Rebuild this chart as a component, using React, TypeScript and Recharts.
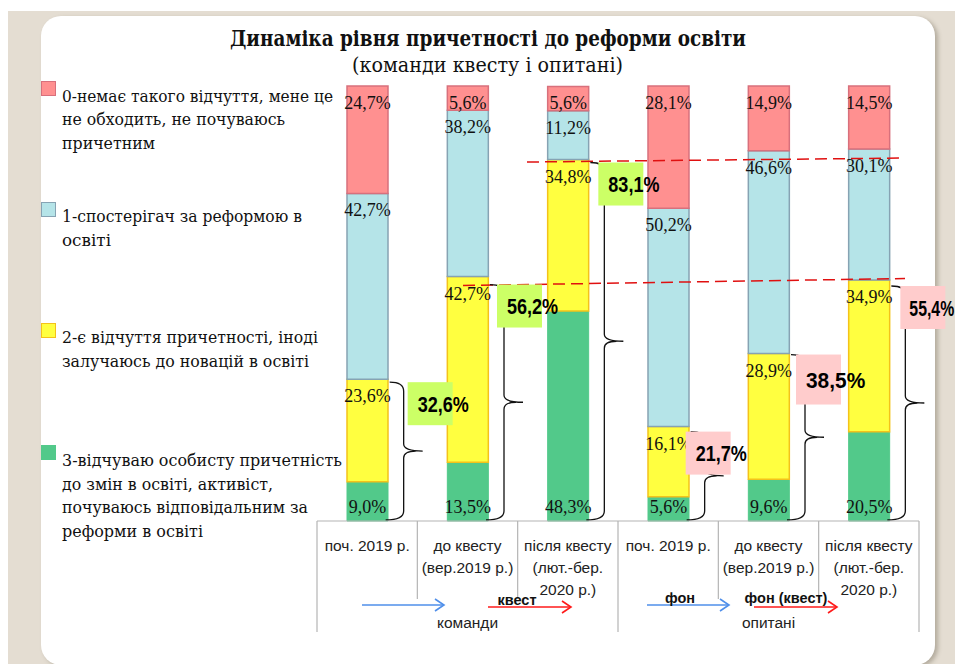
import React from 'react';
import { BarChart, Bar, XAxis, YAxis, LabelList } from 'recharts';

// ---------- data ----------
const categoryLines: string[][] = [
  ['поч. 2019 р.'],
  ['до квесту', '(вер.2019 р.)'],
  ['після квесту', '(лют.-бер.', '2020 р.)'],
  ['поч. 2019 р.'],
  ['до квесту', '(вер.2019 р.)'],
  ['після квесту', '(лют.-бер.', '2020 р.)'],
];
const groupLabels = ['команди', 'опитані'];
const level0 = [24.7, 5.6, 5.6, 28.1, 14.9, 14.5];
const level1 = [42.7, 38.2, 11.2, 50.2, 46.6, 30.1];
const level2 = [23.6, 42.7, 34.8, 16.1, 28.9, 34.9];
const level3 = [9.0, 13.5, 48.3, 5.6, 9.6, 20.5];
const legendLines: string[][] = [
  ['0-немає такого відчуття, мене це', 'не обходить, не почуваюсь', 'причетним'],
  ['1-спостерігач за реформою в', 'освіті'],
  ['2-є відчуття причетності, іноді', 'залучаюсь до новацій в освіті'],
  ['3-відчуваю особисту причетність', 'до змін в освіті, активіст,', 'почуваюсь відповідальним за', 'реформи в освіті'],
];
const titleText = 'Динаміка рівня причетності до реформи освіти';
const subtitleText = '(команди квесту і опитані)';
const arrowLabels = ['', 'квест', 'фон', 'фон (квест)'];

// ---------- layout / styles ----------
const legendWidths: number[][] = [
  [271, 223, 93],
  [240, 49],
  [256, 247],
  [280, 211, 246, 141],
];
const fills = ['#ff9090', '#b5e4e8', '#ffff40', '#52c98a'];
const strokes = ['#d8707c', '#86a3b3', '#f4c21a', '#52c98a'];
const boxFills = ['#ccff66', '#ccff66', '#ccff66', '#ffcccc', '#ffcccc', '#ffcccc'];

const W = 955;
const H = 664;
const M = { top: 86, right: 36, bottom: 143, left: 317 };
const plotW = W - M.left - M.right;
const plotH = H - M.top - M.bottom;
const N = categoryLines.length;
const BAR = 41;

const data = categoryLines.map((l, i) => ({
  name: l.join(' '),
  l0: level0[i],
  l1: level1[i],
  l2: level2[i],
  l3: level3[i],
}));

const fmt = (v: number) => v.toFixed(1).replace('.', ',') + '%';
const xc = (i: number) => M.left + ((i + 0.5) * plotW) / N;
const yv = (v: number) => M.top + plotH * (1 - v / 100);

const serif = "'Liberation Serif', 'Times New Roman', serif";
const cyrSerif = "'DejaVu Serif', serif";
const sans = "'Liberation Sans', Arial, sans-serif";

const topLabel = (props: any) => {
  const { x, y, width, value } = props;
  return (
    <text x={x + width / 2} y={y + 23} textAnchor="middle" fontFamily={serif} fontSize={18} fill="#111">
      {fmt(value)}
    </text>
  );
};
const bottomLabel = (props: any) => {
  const { x, y, width, height, value } = props;
  return (
    <text x={x + width / 2} y={y + height - 8} textAnchor="middle" fontFamily={serif} fontSize={18} fill="#111">
      {fmt(value)}
    </text>
  );
};

const Narrow = ({ x, y, children, size = 16, anchor = 'middle', weight = 400, sx = 0.82, fill = '#222' }: any) => (
  <g transform={`translate(${x},${y}) scale(${sx},1)`}>
    <text x={0} y={0} textAnchor={anchor} fontFamily={sans} fontSize={size} fontWeight={weight} fill={fill}>
      {children}
    </text>
  </g>
);

const bracePath = (x0: number, yTop: number, yBot: number) => {
  const xv = x0 + 14;
  const xt = x0 + 33;
  const ym = (yTop + yBot) / 2;
  return `M ${x0} ${yTop} Q ${xv} ${yTop} ${xv} ${yTop + 9} L ${xv} ${ym - 7} Q ${xv} ${ym} ${xt} ${ym} M ${xv + 12} ${ym} Q ${xv} ${ym} ${xv} ${ym + 7} L ${xv} ${yBot - 9} Q ${xv} ${yBot} ${x0 - 4} ${yBot}`;
};

const Arrow = ({ x1, x2, y, color }: any) => (
  <g stroke={color} strokeWidth={1.6} fill="none">
    <line x1={x1} y1={y} x2={x2} y2={y} />
    <polyline points={`${x2 - 9},${y - 6} ${x2},${y} ${x2 - 9},${y + 6}`} />
  </g>
);

export default function App() {
  const sums = level2.map((v, i) => Math.round((v + level3[i]) * 10) / 10);
  const boxDx = [20, 9, 10, -3, 7, 11];
  const boxDy = [3, 8, 3, 5, 1, 6];
  const boxH = [43, 43, 43, 43, 50, 43];
  const boxSx = [0.82, 0.82, 0.82, 0.82, 0.95, 0.72];
  const tableTop = M.top + plotH;
  const arrows = [
    { x1: 362, x2: 444, color: '#4f8fea', lx: 0 },
    { x1: 488, x2: 571, color: '#ff1a1a', lx: 517 },
    { x1: 647, x2: 729, color: '#4f8fea', lx: 680 },
    { x1: 754, x2: 837, color: '#ff1a1a', lx: 786 },
  ];
  return (
    <div style={{ position: 'absolute', left: 0, top: 0, width: W, height: H, background: '#fff', overflow: 'hidden' }}>
      <div style={{ position: 'absolute', left: 8, top: 11, width: W - 8, height: H - 11, background: '#e4ddd2' }} />
      <div
        style={{
          position: 'absolute',
          left: 41,
          top: 16,
          width: 894,
          height: 649,
          background: '#fff',
          borderRadius: 20,
          boxShadow: '3px 2px 4px rgba(90,80,60,0.35)',
        }}
      />
      <div style={{ position: 'absolute', left: 0, top: 0 }}>
        <BarChart width={W} height={H} data={data} margin={M} barSize={BAR}>
          <XAxis dataKey="name" hide />
          <YAxis type="number" domain={[0, 100]} hide />
          <Bar dataKey="l3" stackId="a" fill={fills[3]} stroke={strokes[3]} strokeWidth={1} isAnimationActive={false}>
            <LabelList dataKey="l3" content={bottomLabel} />
          </Bar>
          <Bar dataKey="l2" stackId="a" fill={fills[2]} stroke={strokes[2]} strokeWidth={1.5} isAnimationActive={false}>
            <LabelList dataKey="l2" content={topLabel} />
          </Bar>
          <Bar dataKey="l1" stackId="a" fill={fills[1]} stroke={strokes[1]} strokeWidth={1.5} isAnimationActive={false}>
            <LabelList dataKey="l1" content={topLabel} />
          </Bar>
          <Bar dataKey="l0" stackId="a" fill={fills[0]} stroke={strokes[0]} strokeWidth={1.5} isAnimationActive={false}>
            <LabelList dataKey="l0" content={topLabel} />
          </Bar>
        </BarChart>
      </div>
      <svg width={W} height={H} style={{ position: 'absolute', left: 0, top: 0, pointerEvents: 'none' }}>
        {/* title */}
        <text x={230} y={46} fontFamily={cyrSerif} fontWeight={700} fontSize={22} fill="#111" textLength={516} lengthAdjust="spacingAndGlyphs">
          {titleText}
        </text>
        <text x={352} y={72} fontFamily={cyrSerif} fontSize={20} fill="#111" textLength={271} lengthAdjust="spacingAndGlyphs">
          {subtitleText}
        </text>
        {/* legend */}
        {legendLines.map((lines, k) => {
          const sqY = [81, 202, 323, 445][k];
          const base = [101.5, 222, 343, 466][k];
          return (
            <g key={k}>
              <rect x={41.5} y={sqY + 0.5} width={14} height={14} fill={fills[k]} stroke={strokes[k]} strokeWidth={1} />
              {lines.map((t, j) => (
                <text
                  key={j}
                  x={62}
                  y={base + j * 23.5}
                  fontFamily={cyrSerif}
                  fontSize={17}
                  fill="#111"
                  textLength={legendWidths[k][j]}
                  lengthAdjust="spacingAndGlyphs"
                >
                  {t}
                </text>
              ))}
            </g>
          );
        })}
        {/* dashed lines */}
        <line x1={527} y1={yv(sums[2]) + 2.5} x2={903} y2={yv(sums[2]) - 1.5} stroke="#e01010" strokeWidth={1.5} strokeDasharray="12 6" />
        <line x1={463} y1={yv(sums[1]) + 9} x2={905} y2={yv(sums[1]) + 2} stroke="#e01010" strokeWidth={1.5} strokeDasharray="12 6" />
        {/* braces and boxes */}
        {sums.map((s, i) => {
          const right = xc(i) + BAR / 2;
          const top = yv(s) + boxDy[i];
          return (
            <g key={i}>
              <path d={bracePath(right + 2, top, yv(0) - 1)} stroke="#111" strokeWidth={1.3} fill="none" />
              <rect x={right + boxDx[i]} y={top} width={45} height={boxH[i]} fill={boxFills[i]} />
              <Narrow
                x={right + boxDx[i] + (i === 5 ? 9 : 10)}
                y={top + boxH[i] / 2 + 8}
                anchor="start"
                size={22}
                weight={700}
                sx={boxSx[i]}
                fill="#000"
              >
                {fmt(s)}
              </Narrow>
            </g>
          );
        })}
        {/* category table */}
        <g stroke="#b4b4b4" strokeWidth={1.2}>
          <line x1={M.left} y1={tableTop} x2={M.left + plotW} y2={tableTop} />
          {Array.from({ length: N + 1 }).map((_, k) => {
            const x = M.left + (k * plotW) / N;
            const long = k === 0 || k === N || k === N / 2;
            return <line key={k} x1={x} y1={tableTop} x2={x} y2={long ? 632 : 599} />;
          })}
        </g>
        {categoryLines.map((lines, i) =>
          lines.map((t, j) => (
            <Narrow key={i + '-' + j} x={xc(i)} y={551 + j * 22} size={15.5} sx={1}>
              {t}
            </Narrow>
          ))
        )}
        {groupLabels.map((g, k) => (
          <Narrow key={g} x={M.left + (k + 0.5) * (plotW / 2)} y={628} size={15.5} sx={1}>
            {g}
          </Narrow>
        ))}
        {arrows.map((a, k) => (
          <g key={k}>
            <Arrow x1={a.x1} x2={a.x2} y={k % 2 ? 607 : 605} color={a.color} />
            {arrowLabels[k] && (
              <Narrow x={a.lx} y={k === 1 ? 605 : 603} size={14.5} weight={700} sx={1} fill="#111">
                {arrowLabels[k]}
              </Narrow>
            )}
          </g>
        ))}
      </svg>
    </div>
  );
}
